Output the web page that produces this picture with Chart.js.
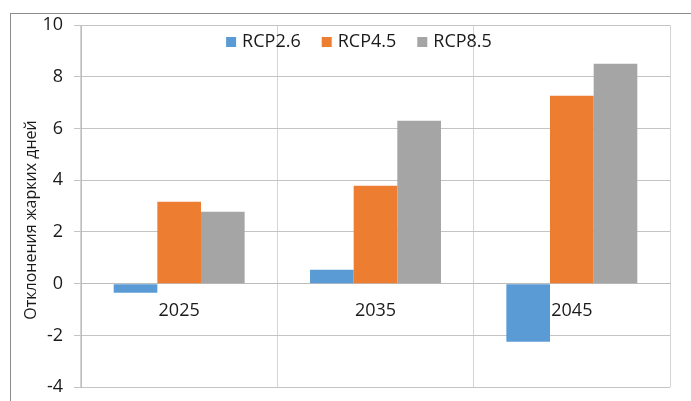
<!DOCTYPE html>
<html>
<head>
<meta charset="utf-8">
<script src="https://cdn.jsdelivr.net/npm/chart.js@4/dist/chart.umd.min.js"></script>
<style>
  html, body { margin: 0; padding: 0; background: #fff; overflow: hidden; width: 691px; height: 401px; }
  #frame { position: absolute; left: 10px; top: 13px; width: 700px; height: 400px; border: 1px solid #8c8c8c; }
  #wrap { position: absolute; left: 0; top: 0; width: 691px; height: 409px; }
</style>
</head>
<body>
<div id="frame"></div>
<div id="wrap"><canvas id="chart"></canvas></div>
<script>
// Данные
const years = ['2025', '2035', '2045'];
const rcp26 = [-0.35, 0.54, -2.24];
const rcp45 = [3.17, 3.79, 7.27];
const rcp85 = [2.78, 6.3, 8.5];
const yTitle = 'Отклонения жарких дней';

const fontFamily = '"Open Sans", "Noto Sans", sans-serif';
const textColor = '#1a1a1a';

// Легенда внутри области графика, в одну строку + подпись оси Y
const inlineLegend = {
    id: 'inlineLegend',
    afterDraw(chart) {
        const c = chart.ctx;
        const box = 10, gapText = 6, gapItem = 21;
        c.save();
        c.font = '18px ' + fontFamily;
        c.textBaseline = 'middle';
        const items = chart.data.datasets.map(ds => ({
            label: ds.label, color: ds.backgroundColor, w: c.measureText(ds.label).width
        }));
        const total = items.reduce((s, it) => s + box + gapText + it.w, 0) + gapItem * (items.length - 1);
        let x = 359 - total / 2;
        const y = 42;
        items.forEach(it => {
            c.fillStyle = it.color;
            c.fillRect(x, y - 5, box, box);
            x += box + gapText;
            c.fillStyle = textColor;
            c.fillText(it.label, x, y);
            x += it.w + gapItem;
        });

        // подпись оси
        c.font = '16px ' + fontFamily;
        c.textAlign = 'center';
        c.translate(31, 220);
        c.rotate(-Math.PI / 2);
        c.fillText(yTitle, 0, 0);
        c.restore();
    }
};

const ctx = document.getElementById('chart').getContext('2d');
new Chart(ctx, {
    type: 'bar',
    data: {
        labels: years,
        datasets: [
            { label: 'RCP2.6', data: rcp26, backgroundColor: '#5B9BD5' },
            { label: 'RCP4.5', data: rcp45, backgroundColor: '#ED7D31' },
            { label: 'RCP8.5', data: rcp85, backgroundColor: '#A5A5A5' }
        ]
    },
    plugins: [inlineLegend],
    options: {
        responsive: true,
        maintainAspectRatio: false,
        animation: false,
        datasets: { bar: { barPercentage: 1, categoryPercentage: 0.667 } },
        layout: { padding: { left: 0, top: 25, right: 21, bottom: 4 } },
        plugins: {
            legend: { display: false },
            tooltip: { enabled: false }
        },
        scales: {
            x: {
                position: { y: 0 },
                grid: { color: '#d4d4d4', offset: true, tickLength: 6 },
                border: { color: '#bdbdbd' },
                ticks: { color: textColor, padding: 10, font: { family: fontFamily, size: 18 } }
            },
            y: {
                min: -4,
                max: 10,
                ticks: { stepSize: 2, color: textColor, padding: 11, font: { family: fontFamily, size: 18 } },
                grid: { color: '#c4c4c4', tickLength: 7 },
                border: { color: '#bdbdbd' },
                afterFit: (scale) => { scale.width = 81; }
            }
        }
    }
});
</script>
</body>
</html>
